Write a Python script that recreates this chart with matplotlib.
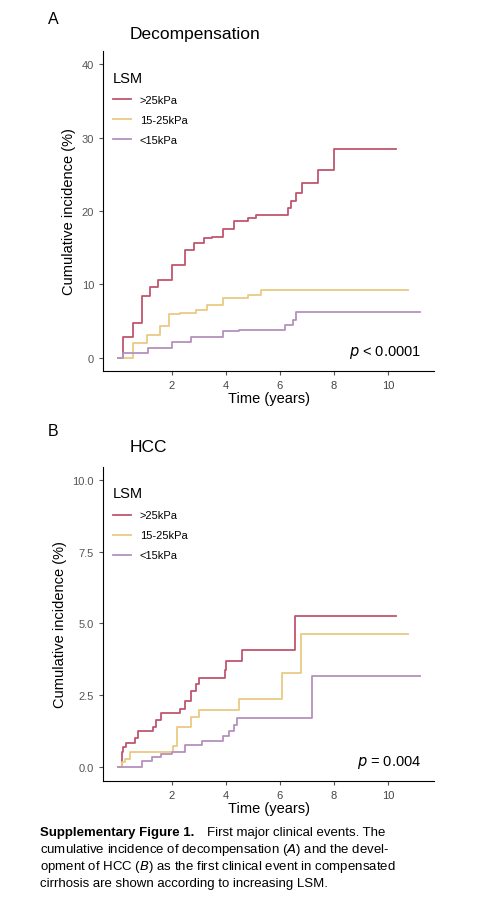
import matplotlib
matplotlib.use("Agg")
import matplotlib.pyplot as plt

plt.rcParams['font.family'] = ['Liberation Sans', 'DejaVu Sans']

# --- data (years, cumulative incidence %) ---
a_hi_t = [0, 0.2, 0.57, 0.88, 1.2, 1.5, 2.0, 2.5, 2.8, 3.2, 3.5, 3.9, 4.3, 4.8, 5.1, 6.2, 6.3, 6.4, 6.6, 6.8, 7.4, 8.0, 10.3]
a_hi_v = [0, 2.9, 4.7, 8.4, 9.7, 10.6, 12.7, 14.7, 15.6, 16.3, 16.5, 17.5, 18.6, 19.0, 19.5, 19.5, 20.4, 21.3, 22.5, 23.8, 25.6, 28.4, 28.4]
a_mid_t = [0, 0.57, 1.06, 1.56, 1.9, 2.3, 2.9, 3.3, 3.9, 4.8, 5.3, 10.75]
a_mid_v = [0, 2.0, 3.1, 4.3, 5.9, 6.1, 6.5, 7.2, 8.1, 8.6, 9.3, 9.3]
a_lo_t = [0, 0.2, 1.1, 2.0, 2.7, 3.9, 4.5, 6.2, 6.5, 6.6, 11.2]
a_lo_v = [0, 0.7, 1.3, 2.2, 2.9, 3.6, 3.8, 4.5, 5.2, 6.2, 6.2]

b_hi_t = [0, 0.14, 0.2, 0.3, 0.63, 0.75, 1.3, 1.4, 1.6, 2.3, 2.5, 2.7, 2.9, 3.0, 3.96, 4.0, 4.6, 6.55, 10.3]
b_hi_v = [0, 0.5, 0.67, 0.84, 1.0, 1.23, 1.4, 1.63, 1.86, 2.02, 2.3, 2.65, 2.87, 3.08, 3.38, 3.69, 4.08, 5.25, 5.25]
b_mid_t = [0, 0.14, 0.26, 0.44, 2.05, 2.2, 2.7, 3.0, 4.5, 6.06, 6.77, 10.75]
b_mid_v = [0, 0.16, 0.27, 0.5, 0.72, 1.4, 1.74, 1.97, 2.36, 3.27, 4.63, 4.63]
b_lo_t = [0, 0.88, 1.25, 1.6, 2.0, 2.5, 3.1, 3.9, 4.1, 4.3, 4.4, 7.2, 11.2]
b_lo_v = [0, 0.21, 0.33, 0.44, 0.52, 0.75, 0.89, 1.06, 1.23, 1.46, 1.69, 3.16, 3.16]

labels = [">25kPa", "15-25kPa", "<15kPa"]
colors = ["#C0566E", "#EBC982", "#B591BC"]

fig = plt.figure(figsize=(5.02, 9.2), dpi=100)
W, H = 502, 920


def panel(box, series, ylim, yticks, yticklabels, title, title_y, letter, letter_y, ptext):
    l, t, r, b = box
    ax = fig.add_axes([l / W, 1 - b / H, (r - l) / W, (b - t) / H])
    for (ts, vs), c, lab in zip(series, colors, labels):
        ax.step(ts, vs, where="post", color=c, lw=1.3, label=lab)
    ax.set_xlim(-0.55, 11.7)
    ax.set_ylim(*ylim)
    ax.set_xticks([2, 4, 6, 8, 10])
    ax.set_yticks(yticks)
    ax.set_yticklabels(yticklabels)
    ax.tick_params(labelsize=8, colors="#555555", length=3)
    ax.tick_params(axis="x", labelcolor="#444444")
    for s in ["top", "right"]:
        ax.spines[s].set_visible(False)
    ax.set_xlabel("Time (years)", fontsize=10.5, labelpad=1)
    ax.set_ylabel("Cumulative incidence (%)", fontsize=10.5)
    leg = ax.legend(loc="upper left", title="LSM", frameon=False, fontsize=8,
                    title_fontsize=10.5, handlelength=1.6, labelspacing=0.9,
                    bbox_to_anchor=(0.0, 0.97))
    leg._legend_box.align = "left"
    ax.text(0.96, 0.05, ptext, transform=ax.transAxes, ha="right", fontsize=10.5)
    fig.text(130 / W, 1 - title_y / H, title, fontsize=12.5, va="center")
    fig.text(48 / W, 1 - letter_y / H, letter, fontsize=11.5, va="center")
    return ax


panel((103, 52, 434, 372),
      [(a_hi_t, a_hi_v), (a_mid_t, a_mid_v), (a_lo_t, a_lo_v)],
      (-1.8, 41.8), [0, 10, 20, 30, 40], ["0", "10", "20", "30", "40"],
      "Decompensation", 35, "A", 20, "$p$ < 0.0001")
panel((103, 468, 434, 782),
      [(b_hi_t, b_hi_v), (b_mid_t, b_mid_v), (b_lo_t, b_lo_v)],
      (-0.5, 10.45), [0, 2.5, 5, 7.5, 10], ["0.0", "2.5", "5.0", "7.5", "10.0"],
      "HCC", 448, "B", 432, "$p$ = 0.004")

# caption
fig.text(40 / W, 1 - 833 / H, "Supplementary Figure 1.", fontsize=9.5, weight="bold", va="center")
fig.text(207 / W, 1 - 833 / H, "First major clinical events. The", fontsize=9.5, va="center")
for i, line in enumerate(["cumulative incidence of decompensation ($\\it{A}$) and the devel-",
                          "opment of HCC ($\\it{B}$) as the first clinical event in compensated",
                          "cirrhosis are shown according to increasing LSM."]):
    fig.text(40 / W, 1 - (850 + 17 * i) / H, line, fontsize=9.5, va="center")

fig.savefig("out.png", dpi=100)
